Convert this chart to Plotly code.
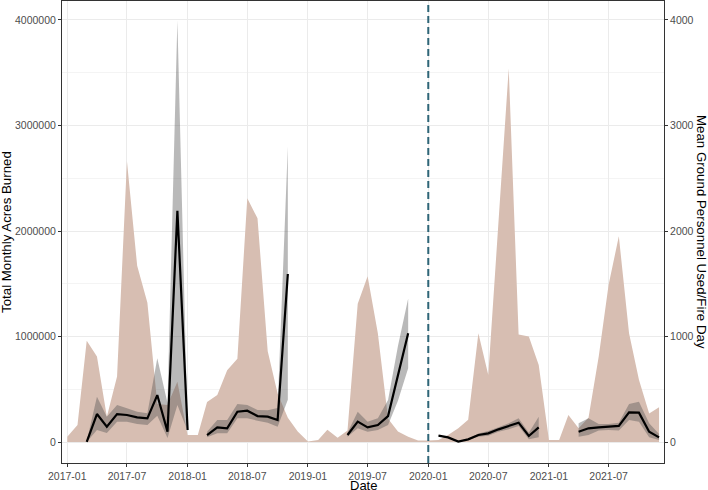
import plotly.graph_objects as go
import pandas as pd

# ---------------- data ----------------
months = pd.date_range("2017-01-01", "2021-12-01", freq="MS")

acres_burned = [
    50000, 160000, 960000, 810000, 240000, 620000, 2660000, 1670000, 1320000, 360000, 350000, 570000,
    66000, 66000, 380000, 445000, 680000, 790000, 2310000, 2120000, 860000, 460000, 230000, 100000,
    5000, 20000, 115000, 40000, 110000, 1310000, 1570000, 1030000, 220000, 100000, 50000, 15000,
    15000, 20000, 66000, 130000, 210000, 1030000, 635000, 2090000, 3540000, 1020000, 1000000, 730000,
    20000, 20000, 255000, 130000, 230000, 810000, 1490000, 1950000, 1030000, 590000, 270000, 330000,
]

personnel_mean = [
    None, None, 2, 265, 145, 265, 256, 234, 224, 445, 98, 2192,
    114, None, 66, 139, 129, 287, 297, 246, 240, 208, 1592, None,
    None, None, None, None, 66, 193, 139, 161, 246, 640, 1030, None,
    None, 60, 44, 5, 25, 66, 82, 120, 152, 183, 57, 139,
    None, None, None, 98, 130, 139, 145, 152, 281, 278, 98, 44,
]
personnel_low = [
    None, None, 0, 114, 85, 192, 192, 170, 161, 250, 38, 350,
    105, None, 44, 82, 82, 224, 224, 202, 183, 145, 400, None,
    None, None, None, None, 50, 130, 98, 114, 161, 390, 700, None,
    None, 55, 40, 0, 18, 50, 60, 98, 120, 152, 25, 44,
    None, None, None, 50, 66, 108, 114, 108, 208, 192, 44, 19,
]
personnel_high = [
    None, None, 6, 430, 240, 350, 320, 287, 272, 795, 370, 3995,
    125, None, 98, 208, 208, 360, 350, 303, 300, 322, 2800, None,
    None, None, None, None, 88, 287, 193, 224, 398, 910, 1360, None,
    None, 65, 50, 10, 32, 80, 104, 140, 177, 224, 88, 240,
    None, None, None, 177, 224, 170, 170, 183, 360, 382, 177, 76,
]

x_tick_dates = ["2017-01-01", "2017-07-01", "2018-01-01", "2018-07-01", "2019-01-01",
                "2019-07-01", "2020-01-01", "2020-07-01", "2021-01-01", "2021-07-01"]
x_tick_labels = ["2017-01", "2017-07", "2018-01", "2018-07", "2019-01",
                 "2019-07", "2020-01", "2020-07", "2021-01", "2021-07"]
y_left_ticks = [0, 1000000, 2000000, 3000000, 4000000]
y_right_ticks = [0, 1000, 2000, 3000, 4000]
covid_date = "2020-01-01"

# ---------------- styles ----------------
FONT = "Liberation Sans, Arial, Helvetica, sans-serif"
BROWN = "rgb(215,190,178)"
RIBBON = "rgba(80,80,80,0.40)"
GRID = "rgb(235,235,235)"
GRID_MINOR = "rgb(244,244,244)"
FRAME = "rgb(51,51,51)"
TICKTXT = "rgb(77,77,77)"

fig = go.Figure()

# acres burned area
fig.add_trace(go.Scatter(
    x=months, y=acres_burned, mode="lines", fill="tozeroy",
    fillcolor=BROWN, line=dict(width=0, color=BROWN), showlegend=False,
    hoverinfo="skip"))

# split personnel into contiguous segments
segments = []
cur = []
for i, v in enumerate(personnel_mean):
    if v is None:
        if cur:
            segments.append(cur)
        cur = []
    else:
        cur.append(i)
if cur:
    segments.append(cur)

for seg in segments:
    sx = [months[i] for i in seg]
    hi = [personnel_high[i] for i in seg]
    lo = [personnel_low[i] for i in seg]
    fig.add_trace(go.Scatter(
        x=sx + sx[::-1], y=hi + lo[::-1], mode="lines", fill="toself",
        fillcolor=RIBBON, line=dict(width=0), yaxis="y2", showlegend=False,
        hoverinfo="skip"))

fig.add_trace(go.Scatter(
    x=months, y=personnel_mean, mode="lines", connectgaps=False,
    line=dict(color="black", width=2.2), yaxis="y2", showlegend=False))

fig.add_shape(type="line", x0=covid_date, x1=covid_date, xref="x",
              y0=0, y1=1, yref="paper",
              line=dict(color="rgb(46,101,119)", width=2, dash="7px,4px"))

fig.update_layout(
    width=708, height=490,
    margin=dict(l=62, r=44, t=1, b=27),
    paper_bgcolor="white", plot_bgcolor="white",
    font=dict(family=FONT, size=10.5, color=TICKTXT),
    xaxis=dict(
        type="date", range=["2016-12-16", "2021-12-16"],
        tickvals=x_tick_dates, ticktext=x_tick_labels,
        showgrid=True, gridcolor=GRID, gridwidth=1,
        showline=True, linecolor=FRAME, linewidth=1, mirror=True,
        ticks="outside", ticklen=3, tickcolor=FRAME,
        tickfont=dict(family=FONT, size=10.5, color=TICKTXT),
        zeroline=False, automargin=False),
    yaxis=dict(
        range=[-199000, 4180000], tickvals=y_left_ticks,
        tickformat="d",
        showgrid=True, gridcolor=GRID, gridwidth=1,
        minor=dict(dtick=500000, tick0=0, showgrid=True, gridcolor=GRID_MINOR, gridwidth=0.6),
        showline=True, linecolor=FRAME, linewidth=1, mirror=True,
        ticks="outside", ticklen=3, tickcolor=FRAME,
        tickfont=dict(family=FONT, size=10.5, color=TICKTXT),
        zeroline=False, automargin=False),
    yaxis2=dict(
        overlaying="y", side="right",
        range=[-199, 4180], tickvals=y_right_ticks, tickformat="d",
        showgrid=False, zeroline=False,
        showline=True, linecolor=FRAME, linewidth=1,
        ticks="outside", ticklen=3, tickcolor=FRAME,
        tickfont=dict(family=FONT, size=10.5, color=TICKTXT), automargin=False),
    annotations=[
        dict(text="Total Monthly Acres Burned", x=6, y=232, xref="paper", yref="paper",
             showarrow=False, textangle=-90, font=dict(family=FONT, size=13.3, color="black")),
        dict(text="Mean Ground Personnel Used/Fire Day", x=702, y=232, xref="paper", yref="paper",
             showarrow=False, textangle=90, font=dict(family=FONT, size=13.3, color="black")),
        dict(text="Date", x=363, y=485, xref="paper", yref="paper",
             showarrow=False, font=dict(family=FONT, size=13, color="black")),
    ],
)

# convert pixel positions of annotations to paper coords
pw = 708 - 62 - 44
ph = 490 - 1 - 27
for a in fig.layout.annotations:
    px, py = a.x, a.y
    a.x = (px - 62) / pw
    a.y = (490 - 27 - py) / ph
    a.xanchor = "center"
    a.yanchor = "middle"
    a.borderpad = 0

fig.write_html("out.html")
